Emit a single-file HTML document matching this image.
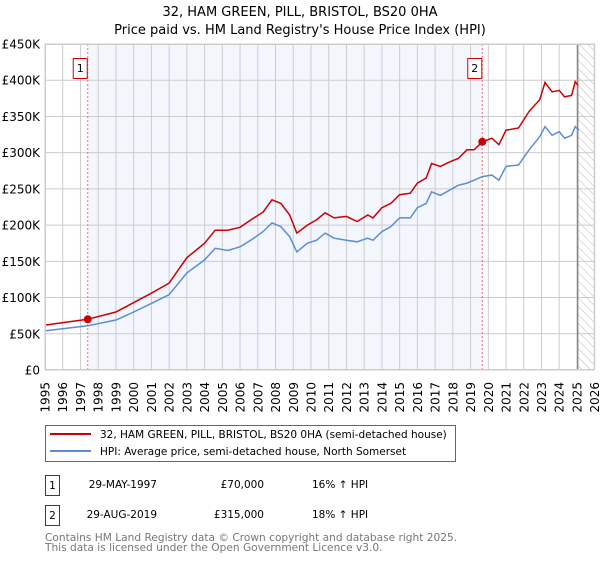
<!DOCTYPE html>
<html><head><meta charset="utf-8"><style>
body{margin:0;background:#fff;font-family:"DejaVu Sans","Liberation Sans",sans-serif;}
svg text{font-family:"DejaVu Sans","Liberation Sans",sans-serif;}
</style></head><body>
<svg id="chart" width="600" height="560" viewBox="0 0 600 560">
<defs><pattern id="hatch" width="6" height="6" patternUnits="userSpaceOnUse" patternTransform="rotate(-45)"><line x1="0" y1="0" x2="0" y2="6" stroke="#bbb" stroke-width="1"/></pattern></defs>
<text x="300" y="16" text-anchor="middle" font-size="13">32, HAM GREEN, PILL, BRISTOL, BS20 0HA</text>
<text x="300" y="34" text-anchor="middle" font-size="13">Price paid vs. HM Land Registry's House Price Index (HPI)</text>
<g id="plot"></g>
<g>
<rect x="45.5" y="425.5" width="410" height="36" fill="#fff" stroke="#666"/>
<line x1="50" y1="434" x2="91" y2="434" stroke="#cc0000" stroke-width="2"/>
<text x="100" y="438" font-size="10.5">32, HAM GREEN, PILL, BRISTOL, BS20 0HA (semi-detached house)</text>
<line x1="50" y1="451" x2="91" y2="451" stroke="#5b8dd6" stroke-width="2"/>
<text x="100" y="455" font-size="10.5">HPI: Average price, semi-detached house, North Somerset</text>
</g>
<g>
<rect x="45.5" y="475.5" width="14" height="20" fill="#fff" stroke="#cc0000"/>
<text x="52.5" y="489" text-anchor="middle" font-size="10.5">1</text>
<text x="157" y="488" text-anchor="end" font-size="10.5">29-MAY-1997</text>
<text x="264" y="488" text-anchor="end" font-size="10.5">£70,000</text>
<text x="312" y="488" font-size="10.5">16% ↑ HPI</text>
<rect x="45.5" y="505.5" width="14" height="20" fill="#fff" stroke="#cc0000"/>
<text x="52.5" y="519" text-anchor="middle" font-size="10.5">2</text>
<text x="157" y="518" text-anchor="end" font-size="10.5">29-AUG-2019</text>
<text x="264" y="518" text-anchor="end" font-size="10.5">£315,000</text>
<text x="312" y="518" font-size="10.5">18% ↑ HPI</text>
</g>
<text x="45" y="541" font-size="10.6" fill="#777">Contains HM Land Registry data © Crown copyright and database right 2025.</text>
<text x="45" y="551" font-size="10.6" fill="#777">This data is licensed under the Open Government Licence v3.0.</text>
</svg>
<script>
const hpiYears=[1995,1997.4,1999,2000,2001,2002,2003,2004,2004.6,2005.3,2006,2006.6,2007.3,2007.8,2008.3,2008.8,2009.2,2009.8,2010.3,2010.8,2011.3,2012,2012.6,2013.2,2013.5,2014,2014.5,2015,2015.6,2016,2016.5,2016.8,2017.3,2017.8,2018.3,2018.8,2019.2,2019.66,2020.2,2020.6,2021,2021.7,2022.3,2022.9,2023.2,2023.6,2024,2024.3,2024.7,2024.9,2025.1];
const hpiValues=[54,61,69,80,92,104,134,152,168,165,170,179,191,203,198,184,163,175,179,189,182,179,177,182,179,191,198,210,210,224,230,246,241,248,255,258,262,267,269,262,281,283,304,322,336,324,329,320,324,336,331];
const priceYears=[1995,1997.4,1999,2000,2001,2002,2003,2004,2004.6,2005.3,2006,2006.6,2007.3,2007.8,2008.3,2008.8,2009.2,2009.8,2010.3,2010.8,2011.3,2012,2012.6,2013.2,2013.5,2014,2014.5,2015,2015.6,2016,2016.5,2016.8,2017.3,2017.8,2018.3,2018.8,2019.2,2019.66,2020.2,2020.6,2021,2021.7,2022.3,2022.9,2023.2,2023.6,2024,2024.3,2024.7,2024.9,2025.05];
const priceValues=[62,70,80,93,106,120,155,175,193,193,197,207,218,235,230,214,189,200,207,217,210,212,205,214,210,224,230,242,244,258,265,285,281,287,292,304,304,315,320,311,331,334,357,373,397,384,386,377,379,398,393];
const saleYears=[1997.41,2019.66];
const saleValues=[70,315];
const saleLabels=["1","2"];
const yTicks=[0,50,100,150,200,250,300,350,400,450];
const yTickLabels=["£0","£50K","£100K","£150K","£200K","£250K","£300K","£350K","£400K","£450K"];
const xTicks=[1995,1996,1997,1998,1999,2000,2001,2002,2003,2004,2005,2006,2007,2008,2009,2010,2011,2012,2013,2014,2015,2016,2017,2018,2019,2020,2021,2022,2023,2024,2025,2026];
const dataEnd=2025.04;

const L=45,R=594.7,T=44,B=370,X0=1995,X1=2026,Ymax=450;
const xs=v=>L+(v-X0)/(X1-X0)*(R-L);
const ys=v=>B-v/Ymax*(B-T);
const NS="http://www.w3.org/2000/svg";
const g=document.getElementById('plot');
function mk(tag,attrs,parent){const e=document.createElementNS(NS,tag);for(const k in attrs)e.setAttribute(k,attrs[k]);(parent||g).appendChild(e);return e;}

let e=mk('rect',{x:xs(saleYears[0]),y:T,width:xs(saleYears[1])-xs(saleYears[0]),height:B-T,fill:'#f3f6fd'});


e=mk('rect',{x:xs(dataEnd),y:T,width:R-xs(dataEnd),height:B-T,fill:'url(#hatch)'});



xTicks.forEach(t=>{
  const l=mk('line',{x1:xs(t),x2:xs(t),y1:T,y2:B,stroke:'#ccc','stroke-width':1});
  
  
  const tx=mk('text',{x:0,y:0,'font-size':12,'text-anchor':'end',transform:`translate(${xs(t)+4.5},382) rotate(-90)`});
  tx.textContent=t;
  
  
});
yTicks.forEach((t,i)=>{
  const l=mk('line',{x1:L,x2:R,y1:ys(t),y2:ys(t),stroke:'#ccc','stroke-width':1});
  
  
  const tx=mk('text',{x:40,y:ys(t)+4.5,'font-size':12,'text-anchor':'end'});
  tx.textContent=yTickLabels[i];
  
  
});
e=mk('line',{x1:xs(dataEnd),x2:xs(dataEnd),y1:T,y2:B,stroke:'#888','stroke-width':1.5});



saleYears.forEach((s,i)=>{
  const l=mk('line',{x1:xs(s),x2:xs(s),y1:T,y2:B,stroke:'#f07070','stroke-width':1,'stroke-dasharray':'2,2'});
  
  
  const r=mk('rect',{x:xs(s)-14.5,y:58.5,width:14,height:20,fill:'#fff',stroke:'#cc0000'});
  
  
  const tx=mk('text',{x:xs(s)-7.5,y:72,'font-size':11,'text-anchor':'middle'});
  tx.textContent=saleLabels[i];
  
  
});

function path(xa,va){return xa.map((x,i)=>(i?'L':'M')+xs(x).toFixed(1)+','+ys(va[i]).toFixed(1)).join('');}
e=mk('path',{d:path(hpiYears,hpiValues),fill:'none',stroke:'#5b8dd6','stroke-width':1.5});


e=mk('path',{d:path(priceYears,priceValues),fill:'none',stroke:'#cc0000','stroke-width':1.5});


saleYears.forEach((s,i)=>{
  const c=mk('circle',{cx:xs(s),cy:ys(saleValues[i]),r:4,fill:'#cc0000'});
  
  
});
e=mk('rect',{x:L+0.5,y:T+0.5,width:R-L-1,height:B-T-1,fill:'none',stroke:'#ccc'});


</script>
</body></html>
